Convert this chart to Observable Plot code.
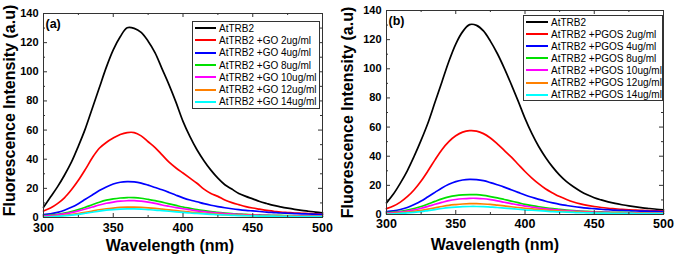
<!DOCTYPE html>
<html>
<head>
<meta charset="utf-8">
<script src="https://cdn.jsdelivr.net/npm/d3@7"></script>
<script src="https://cdn.jsdelivr.net/npm/@observablehq/plot@0.6"></script>
<style>
  html, body { margin: 0; padding: 0; background: #fff; }
  #wrap { position: relative; width: 675px; height: 255px; overflow: hidden; font-family: "Liberation Sans", Arial, sans-serif; }
  .panel { position: absolute; top: 0; }
  .legend { position: absolute; background: #fff; border: 1px solid #333; box-sizing: border-box; font-size: 10px; color: #000; }
  .legend .row { white-space: nowrap; display: flex; align-items: center; }
  .legend .sw { display: inline-block; height: 2px; }
</style>
</head>
<body>
<div id="wrap">
  <div id="pa" class="panel" style="left:0px"></div>
  <div id="pb" class="panel" style="left:337px"></div>
</div>
<script>
// ---- shared axes ----
const wavelength = [300,305,310,315,320,325,330,335,340,345,350,355,360,365,370,375,380,385,390,395,400,405,410,415,420,425,430,435,440,445,450,455,460,465,470,475,480,485,490,495,500];
const xTicks = [300,350,400,450,500];
const xMinorTicks = [325,375,425,475];
const yTicks = [0,20,40,60,80,100,120,140];
const yMinorTicks = [10,30,50,70,90,110,130];
const seriesColors = ["#000000","#ff0000","#0000ff","#00e000","#ff00ff","#ff8000","#00ffff"];
const xTitle = "Wavelength (nm)";
const yTitle = "Fluorescence Intensity (a.u)";

// ---- panel (a): GO ----
const labelsA = ["AtTRB2","AtTRB2 +GO 2ug/ml","AtTRB2 +GO 4ug/ml","AtTRB2 +GO 8ug/ml","AtTRB2 +GO 10ug/ml","AtTRB2 +GO 12ug/ml","AtTRB2 +GO 14ug/ml"];
const a_ctrl  = [7,14,21,29,38,49,61,75,89,103,115,124,130.2,129.8,127,121,113,102,91,79,66,55.5,46.5,39,32.5,27,22.5,19.5,16.5,14.5,12.8,11,9.6,8.3,7.3,6.4,5.6,4.9,4.3,3.7,3.2];
const a_go2   = [4.5,6.5,9.5,13.5,19,25.5,33,41,47.5,51.5,54.5,57,58.3,58.3,56,52,48,43,38,34,30.5,27,23.5,19.5,16.5,14.5,12,10.2,8.8,7.5,6.5,5.7,4.9,4.3,3.7,3.4,3.1,2.9,2.7,2.5,2.4];
const a_go4   = [2,2.5,3.5,5,7,9.5,12.5,15.5,18.5,21,23,24.2,24.6,24.4,23.6,22.2,20.6,19,17.2,15.3,13.5,12,10.8,9.5,8.4,7.5,6.7,6,5.4,4.9,4.5,4.1,3.7,3.4,3.1,2.9,2.7,2.5,2.4,2.2,2.1];
const a_go8   = [1.3,1.7,2.2,3,4,5.4,7,8.8,10.5,11.9,12.8,13.4,13.7,13.6,13.2,12.4,11.6,10.5,9.4,8.3,7.2,6.3,5.4,4.7,4.1,3.6,3.1,2.7,2.4,2.1,1.9,1.75,1.6,1.5,1.4,1.3,1.2,1.15,1.1,1.05,1];
const a_go10  = [1,1.3,1.8,2.5,3.3,4.5,5.8,7.2,8.6,9.8,10.6,11.2,11.5,11.6,11.2,10.6,9.7,8.6,7.7,6.8,6,5.3,4.6,4,3.5,3.1,2.7,2.4,2.1,1.9,1.7,1.55,1.4,1.3,1.2,1.15,1.1,1,0.95,0.9,0.9];
const a_go12  = [0.5,0.7,1,1.5,2,2.7,3.5,4.4,5.3,6,6.5,6.9,7.1,7.1,6.9,6.6,6.2,5.7,5.2,4.7,4.2,3.7,3.3,2.9,2.6,2.3,2,1.8,1.6,1.45,1.3,1.2,1.1,1.05,1,0.95,0.9,0.85,0.85,0.8,0.8];
const a_go14  = [0.3,0.5,0.8,1.2,1.6,2.2,2.9,3.6,4.4,5,5.4,5.7,5.9,5.9,5.7,5.4,5.1,4.7,4.3,3.9,3.5,3.1,2.8,2.5,2.2,1.9,1.7,1.5,1.3,1.2,1.1,1,0.95,0.9,0.8,0.75,0.7,0.7,0.65,0.6,0.6];

// ---- panel (b): PGOS ----
const labelsB = ["AtTRB2","AtTRB2 +PGOS 2ug/ml","AtTRB2 +PGOS 4ug/ml","AtTRB2 +PGOS 8ug/ml","AtTRB2 +PGOS 10ug/ml","AtTRB2 +PGOS 12ug/ml","AtTRB2 +PGOS 14ug/ml"];
const b_ctrl   = [8,14,21.5,30,40,51,63,77,91,105,117,125.5,130.3,129.8,126,119,110.5,100.5,89.5,78,66,55.5,46.5,39,32.5,27,22.5,19,16,13.5,11.5,10,8.7,7.6,6.7,5.9,5.2,4.6,4.1,3.6,3.2];
const b_pgos2  = [4,5.8,8.5,12.2,17,23,30,37.5,44.5,50,54,56.5,57.5,57.2,55.5,52.5,48.5,44,39.5,34.5,29.5,25,21,17.5,14.8,12.3,10.3,8.6,7.3,6.3,5.5,4.8,4.3,3.9,3.5,3.2,3,2.8,2.6,2.5,2.4];
const b_pgos4  = [2,2.5,3.4,4.8,6.8,9.2,12.2,15.2,18.2,20.7,22.6,23.7,24.1,23.9,23.2,21.9,20.4,18.8,17,15.2,13.4,11.8,10.4,9.1,8,7,6.2,5.5,4.9,4.4,4,3.6,3.3,3,2.8,2.6,2.4,2.3,2.2,2.1,2];
const b_pgos8  = [1.3,1.7,2.2,3,4.1,5.5,7.2,9,10.7,12.1,13,13.5,13.7,13.6,13.1,12.3,11.4,10.3,9.2,8.1,7,6.1,5.3,4.6,4,3.5,3,2.6,2.3,2.1,1.9,1.75,1.6,1.5,1.4,1.3,1.2,1.15,1.1,1.05,1];
const b_pgos10 = [1,1.3,1.8,2.4,3.2,4.3,5.6,7,8.3,9.5,10.3,10.8,11.1,11.1,10.8,10.2,9.4,8.4,7.5,6.6,5.8,5.1,4.4,3.9,3.4,3,2.6,2.3,2.1,1.9,1.7,1.55,1.4,1.3,1.2,1.15,1.1,1,0.95,0.9,0.9];
const b_pgos12 = [0.6,0.8,1.1,1.6,2.1,2.8,3.7,4.6,5.5,6.3,6.8,7.2,7.4,7.4,7.2,6.9,6.4,5.9,5.3,4.8,4.3,3.8,3.4,3,2.6,2.3,2.1,1.9,1.7,1.5,1.35,1.25,1.15,1.1,1,0.95,0.9,0.9,0.85,0.8,0.8];
const b_pgos14 = [0.3,0.5,0.8,1.1,1.5,2,2.7,3.4,4.1,4.7,5.1,5.4,5.5,5.5,5.4,5.1,4.8,4.4,4,3.6,3.2,2.9,2.6,2.3,2,1.8,1.6,1.4,1.25,1.15,1.05,0.95,0.9,0.85,0.8,0.75,0.7,0.7,0.65,0.6,0.6];

function buildPanel(container, series, labels, panelTag, L) {
  const data = [];
  series.forEach((arr, i) => arr.forEach((v, j) => data.push({x: wavelength[j], y: v, s: labels[i]})));
  const H = L.height - L.mt - L.mb;
  const W = L.width - L.ml - L.mr;
  const tickColor = "#333";
  const chart = Plot.plot({
    width: L.width, height: L.height,
    marginLeft: L.ml, marginRight: L.mr, marginTop: L.mt, marginBottom: L.mb,
    x: {domain: [300, 500]},
    y: {domain: [0, 140]},
    color: {domain: labels, range: seriesColors},
    style: {fontFamily: "'Liberation Sans', Arial, sans-serif", color: "#000", background: "#fff", overflow: "visible"},
    marks: [
      Plot.line(data, {x: "x", y: "y", stroke: "s", z: "s", strokeWidth: 1.7, curve: "catmull-rom"}),
      Plot.frame({stroke: "#333", strokeWidth: 1}),
      Plot.tickX(xTicks, {x: d => d, insetTop: H - 4, stroke: tickColor}),
      Plot.tickX(xTicks, {x: d => d, insetBottom: H - 4, stroke: tickColor}),
      Plot.tickX(xMinorTicks, {x: d => d, insetTop: H - 2, stroke: tickColor}),
      Plot.tickX(xMinorTicks, {x: d => d, insetBottom: H - 2, stroke: tickColor}),
      Plot.tickY(yTicks, {y: d => d, insetRight: W - 4, stroke: tickColor}),
      Plot.tickY(yTicks, {y: d => d, insetLeft: W - 4, stroke: tickColor}),
      Plot.tickY(yMinorTicks, {y: d => d, insetRight: W - 2, stroke: tickColor}),
      Plot.tickY(yMinorTicks, {y: d => d, insetLeft: W - 2, stroke: tickColor}),
      Plot.axisX({ticks: xTicks, tickSize: 0, tickPadding: L.xpad, fontSize: 12.5, fontWeight: "bold", label: null, tickFormat: d => String(d)}),
      Plot.axisY({ticks: yTicks, tickSize: 0, tickPadding: 5, fontSize: 11, fontWeight: "bold", label: null, tickFormat: d => String(d)}),
      Plot.text([yTitle], {text: d => d, frameAnchor: "left", textAnchor: "middle", lineAnchor: "middle", rotate: -90, dx: L.ytdx, dy: L.ytdy, fontSize: 16, fontWeight: "bold"}),
      Plot.text([xTitle], {text: d => d, frameAnchor: "bottom", textAnchor: "middle", lineAnchor: "middle", dx: L.xtdx, dy: L.xtdy, fontSize: 16, fontWeight: "bold"}),
      Plot.text([panelTag], {text: d => d, frameAnchor: "top-left", textAnchor: "start", lineAnchor: "middle", dx: 2, dy: 10, fontSize: 12.5, fontWeight: "bold"})
    ]
  });
  container.appendChild(chart);

  const lg = document.createElement("div");
  lg.className = "legend";
  Object.assign(lg.style, {left: L.lg.left + "px", top: L.lg.top + "px", width: L.lg.w + "px", height: L.lg.h + "px", paddingTop: L.lg.pt + "px"});
  labels.forEach((lab, i) => {
    const row = document.createElement("div");
    row.className = "row";
    row.style.height = L.lg.rh + "px";
    const sw = document.createElement("span");
    sw.className = "sw";
    sw.style.background = seriesColors[i];
    sw.style.width = L.lg.sw + "px";
    sw.style.marginLeft = "2px";
    sw.style.marginRight = "3px";
    const t = document.createElement("span");
    t.textContent = lab;
    row.appendChild(sw); row.appendChild(t);
    lg.appendChild(row);
  });
  container.appendChild(lg);
}

buildPanel(document.getElementById("pa"),
  [a_ctrl, a_go2, a_go4, a_go8, a_go10, a_go12, a_go14], labelsA, "(a)",
  {width: 337, height: 255, ml: 43, mr: 15, mt: 13, mb: 38, xpad: 6,
   ytdx: -34, ytdy: -5, xtdx: -13, xtdy: 28,
   lg: {left: 192, top: 21, w: 128, h: 88, pt: 0, rh: 12.3, sw: 21}});

buildPanel(document.getElementById("pb"),
  [b_ctrl, b_pgos2, b_pgos4, b_pgos8, b_pgos10, b_pgos12, b_pgos14], labelsB, "(b)",
  {width: 338, height: 255, ml: 49, mr: 12, mt: 10, mb: 41, xpad: 5,
   ytdx: -39, ytdy: 0, xtdx: -30, xtdy: 30,
   lg: {left: 186, top: 15, w: 140, h: 86, pt: 0, rh: 12.1, sw: 22}});
</script>
</body>
</html>
